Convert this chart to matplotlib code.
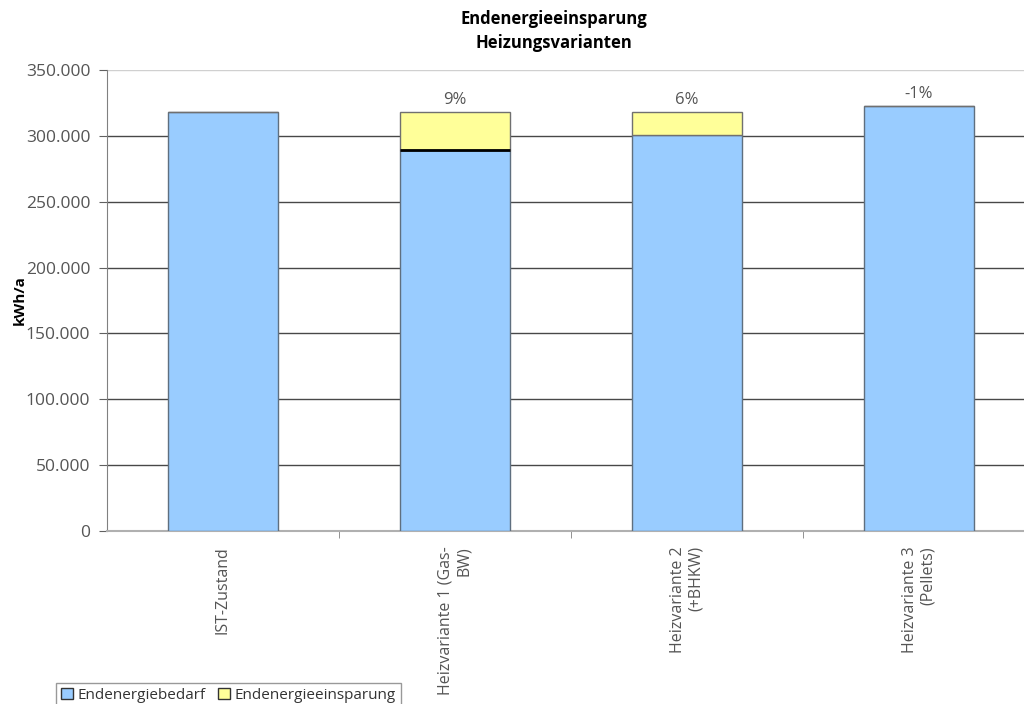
import matplotlib.pyplot as plt
import matplotlib.ticker as mticker
from matplotlib.patches import Patch

## Data
categories = ['IST-Zustand', 'Heizvariante 1 (Gas-\nBW)', 'Heizvariante 2\n(+BHKW)', 'Heizvariante 3\n(Pellets)']
bedarf = [318500, 289500, 300500, 323000]  # Endenergiebedarf [kWh/a]
einsparung = [0, 29000, 18000, 0]  # Endenergieeinsparung [kWh/a]
pct_labels = ['', '9%', '6%', '-1%']
yticks = [0, 50000, 100000, 150000, 200000, 250000, 300000, 350000]

col_blue = '#99ccff'
col_yellow = '#ffff99'
txt_gray = '#555555'

plt.rcParams['font.family'] = ['Open Sans', 'DejaVu Sans']

fig = plt.figure(figsize=(10.24, 7.04), dpi=100)
ax = fig.add_axes([0.1045, 0.2457, 0.906, 0.6548])

x = list(range(len(categories)))
w = 0.474
ax.bar(x, bedarf, width=w, color=col_blue, edgecolor='#5f6f7f', linewidth=1.0, zorder=3)
tops = [b + e for b, e in zip(bedarf, einsparung)]
ax.bar(x, einsparung, width=w, bottom=bedarf, color=col_yellow, edgecolor='#707070', linewidth=1.0, zorder=3)
# dark separator line between the two segments (variant 1)
for xi, b, e in zip(x, bedarf, einsparung):
    if e > 0 and xi == 1:
        ax.hlines(b, xi - w / 2, xi + w / 2, color='black', linewidth=2, zorder=4)

for xi, t, lab in zip(x, tops, pct_labels):
    if lab:
        ax.text(xi, t + 2500, lab, ha='center', va='bottom', fontsize=12, color=txt_gray)

ax.set_xlim(-0.5, len(categories) - 0.5)
ax.set_ylim(0, 350000)
ax.set_yticks(yticks)
ax.yaxis.set_major_formatter(mticker.FuncFormatter(lambda v, p: f'{int(v):,}'.replace(',', '.')))
ax.grid(axis='y', color='#484848', linewidth=1.0, zorder=0)
ax.yaxis.get_gridlines()[-1].set_color('#d0d0d0')

ax.set_xticks(x)
ax.set_xticklabels(categories, rotation=90, ha='center', va='top', multialignment='right',
                   fontsize=11.5, color=txt_gray)
ax.set_xticks([0.5, 1.5, 2.5], minor=True)
ax.tick_params(axis='x', which='major', length=0, pad=11)
ax.tick_params(axis='x', which='minor', length=5, color='#808080')
ax.tick_params(axis='y', length=6, color='#606060', labelsize=12.5, labelcolor=txt_gray, pad=6)

for s in ['top', 'right']:
    ax.spines[s].set_visible(False)
ax.spines['left'].set_color('#808080')
ax.spines['bottom'].set_color('#b0b0b0')
ax.spines['bottom'].set_linewidth(1.5)

ax.set_ylabel('kWh/a', fontsize=11, fontweight='bold')
ax.yaxis.set_label_coords(-0.087, 0.5)
fig.text(0.541, 0.956, 'Endenergieeinsparung\nHeizungsvarianten', ha='center', va='center',
         fontsize=12, fontweight='bold', linespacing=1.4)

handles = [Patch(facecolor=col_blue, edgecolor='#333333', label='Endenergiebedarf'),
           Patch(facecolor=col_yellow, edgecolor='#333333', label='Endenergieeinsparung')]
leg = fig.legend(handles=handles, loc='lower left', bbox_to_anchor=(0.055, -0.005), ncol=2,
                 fontsize=11, frameon=True, fancybox=False, handlelength=0.8, handleheight=0.8,
                 handletextpad=0.3, columnspacing=0.8, borderpad=0.3, borderaxespad=0)
leg.get_frame().set_edgecolor('#808080')
leg.get_frame().set_linewidth(1.0)
for t in leg.get_texts():
    t.set_color('#333333')

fig.savefig('out.png', dpi=100)
